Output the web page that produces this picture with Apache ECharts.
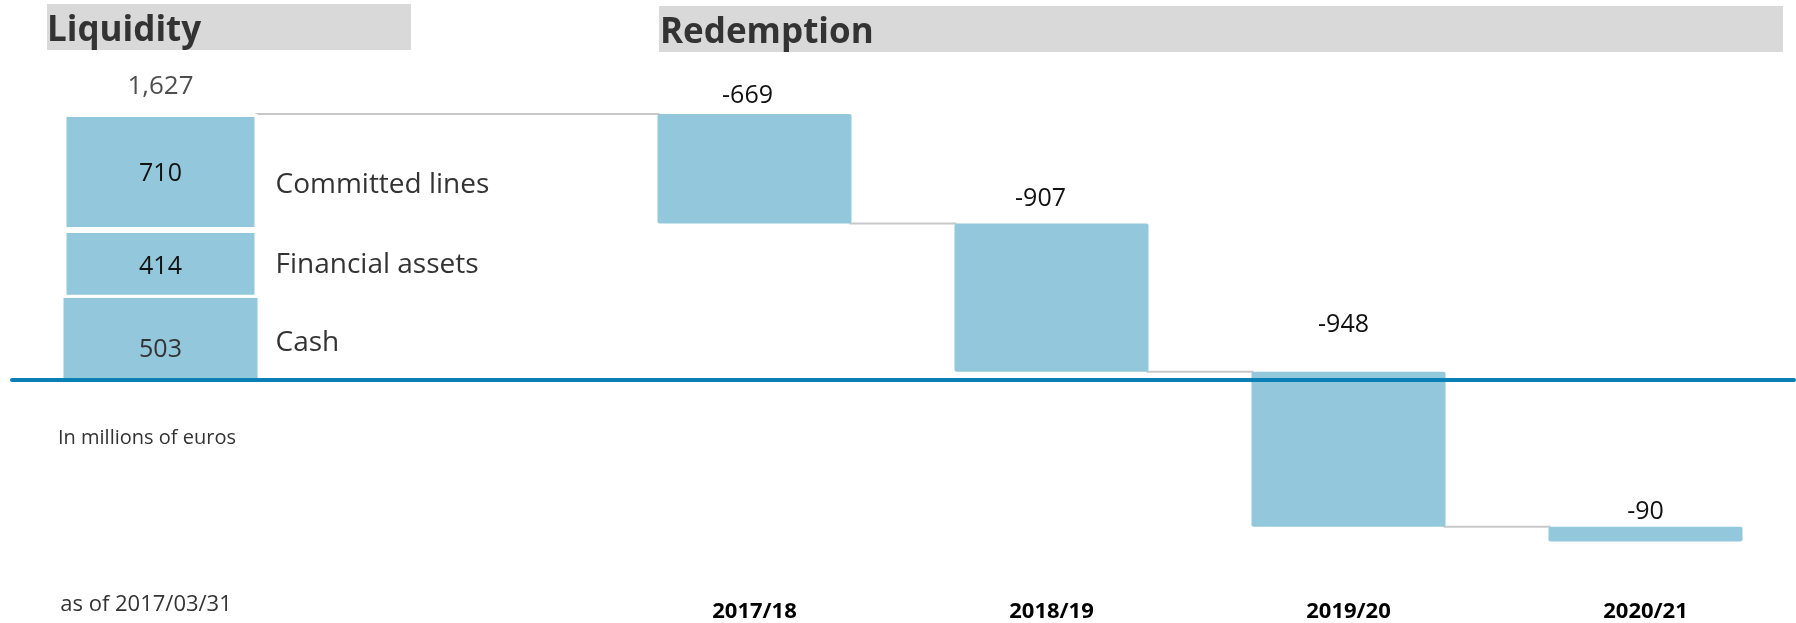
<!DOCTYPE html>
<html>
<head>
<meta charset="utf-8">
<script src="https://cdn.jsdelivr.net/npm/echarts@6/dist/echarts.min.js"></script>
<style>
  html, body { margin: 0; padding: 0; background: #fff; }
  #main { width: 1796px; height: 623px; }
</style>
</head>
<body>
<div id="main"></div>
<script>
// data (millions of euros)
const liquidityParts = ["Cash", "Financial assets", "Committed lines"];
const liquidityValues = [503, 414, 710];
const liquidityTotal = 1627;
const asOfLabel = "as of 2017/03/31";
const redemptionYears = ["2017/18", "2018/19", "2019/20", "2020/21"];
const redemptionValues = [-669, -907, -948, -90];

const categories = [asOfLabel, ""].concat(redemptionYears);
const barColor = "#93c7dc";
const barWidth = 194;
const font = "'Open Sans', sans-serif";

// waterfall: running level before/after each redemption
let levels = [liquidityTotal];
redemptionValues.forEach(v => levels.push(levels[levels.length - 1] + v));

const pad = (arr, at) => {
    let out = categories.map(() => "-");
    arr.forEach((v, i) => { out[at + i] = v; });
    return out;
};

const baseData = pad(redemptionValues.map((v, i) => Math.min(levels[i], levels[i + 1])), 2);
const labelGap = [6, 12, 34, 2];      // label distance above each redemption bar
const labelShift = [-7, -11, -5, 0];  // small horizontal nudges as in the original slide
const stepData = pad(redemptionValues.map((v, i) => ({
    value: Math.abs(v),
    label: { distance: labelGap[i], offset: [labelShift[i], 0] }
})), 2);

// connectors: [from category, to category, level]
const connectors = levels.slice(0, -1).map((lv, i) => [i === 0 ? 0 : i + 1, i + 2, lv]);

const valueOffsets = [[0, 11], [0, 3], [0, 2]];
const valueColors = ["#333", "#111", "#111"];
const nameOffsets = [[0, 4], [0, 1], [0, 13]];

let series = [];
liquidityParts.forEach((name, i) => {
    series.push({
        name: name,
        type: "bar",
        stack: "liq",
        barWidth: barWidth,
        barGap: "-100%",
        z: 3,
        data: pad([liquidityValues[i]], 0),
        itemStyle: i === 0 ? { color: barColor } : { color: barColor, borderColor: "#fff", borderWidth: 3 },
        label: {
            show: true, position: "inside", offset: valueOffsets[i],
            fontFamily: font, fontSize: 25, color: valueColors[i]
        }
    });
});
series.push({
    name: "base", type: "bar", stack: "steps", stackStrategy: "all", barWidth: barWidth, barGap: "-100%",
    silent: true, data: baseData, itemStyle: { color: "rgba(0,0,0,0)" }
});
series.push({
    name: "Redemption", type: "bar", stack: "steps", stackStrategy: "all", barWidth: barWidth, barGap: "-100%",
    z: 3, data: stepData,
    itemStyle: { color: barColor, borderRadius: 2 },
    label: {
        show: true, position: "top",
        formatter: p => String(redemptionValues[p.dataIndex - 2]),
        fontFamily: font, fontSize: 25, color: "#111"
    }
});
// part names to the right of the liquidity bars
liquidityParts.forEach((name, i) => {
    series.push({
        name: name + " label", type: "bar", stack: "names", barWidth: barWidth, barGap: "-100%",
        silent: true, data: pad([liquidityValues[i]], 0),
        itemStyle: { color: "rgba(0,0,0,0)" },
        label: {
            show: true, position: "right", distance: 18, offset: nameOffsets[i],
            formatter: () => name, fontFamily: font, fontSize: 28, color: "#333"
        }
    });
});
// total on top of the liquidity stack
series.push({
    name: "total", type: "scatter", symbolSize: 0, silent: true,
    data: pad([liquidityTotal], 0),
    label: {
        show: true, position: "top", distance: 14,
        formatter: p => p.value.toLocaleString("en-US"),
        fontFamily: font, fontSize: 26, color: "#222"
    }
});
series.push({
    name: "connectors", type: "custom", z: 1, silent: true,
    data: connectors,
    encode: { x: 0, y: 2 },
    renderItem: (params, api) => {
        const a = api.coord([api.value(0), api.value(2)]);
        const b = api.coord([api.value(1), api.value(2)]);
        return {
            type: "line",
            shape: { x1: a[0] + barWidth / 2 - 2, y1: a[1], x2: b[0] - barWidth / 2 + 2, y2: b[1] },
            style: { stroke: "#c8c8c8", lineWidth: 2 }
        };
    }
});

var myChart = echarts.init(document.getElementById("main"));
var option = {
    animation: false,
    grid: { left: 12, right: 2, top: 114, bottom: 63, containLabel: false, outerBoundsMode: "none" },
    xAxis: [
        {
            type: "category",
            data: categories,
            axisLine: { show: false, onZero: false },
            axisTick: { show: false },
            axisLabel: {
                interval: 0, margin: 52, verticalAlign: "middle",
                formatter: (v, i) => i === 0 ? "{d|" + v + "}" : "{y|" + v + "}",
                rich: {
                    d: { fontFamily: font, fontSize: 22, color: "#333", padding: [0, 29, 14, 0] },
                    y: { fontFamily: font, fontSize: 22, fontWeight: "bold", color: "#000" }
                }
            }
        },
        {
            type: "category",
            data: categories,
            position: "top",
            z: 10,
            axisLine: { show: true, onZero: true, lineStyle: { color: "#0a7fb5", width: 4 } },
            axisTick: { show: false },
            axisLabel: { show: false }
        }
    ],
    yAxis: {
        type: "value", min: -1100, max: 1627, show: false,
        splitLine: { show: false }
    },
    graphic: [
        { type: "rect", left: 47, top: 4, shape: { width: 364, height: 46 }, style: { fill: "#d9d9d9" }, z: 0 },
        { type: "rect", left: 659, top: 6, shape: { width: 1124, height: 46 }, style: { fill: "#d9d9d9" }, z: 0 },
        { type: "text", left: 47, top: 14, style: { text: "Liquidity", font: "bold 35px " + font, fill: "#333" }, z: 1 },
        { type: "text", left: 660, top: 16, style: { text: "Redemption", font: "bold 35px " + font, fill: "#333" }, z: 1 },
        { type: "text", left: 58, top: 428, style: { text: "In millions of euros", font: "20px " + font, fill: "#333" } }
    ],
    series: series
};
myChart.setOption(option);
</script>
</body>
</html>
